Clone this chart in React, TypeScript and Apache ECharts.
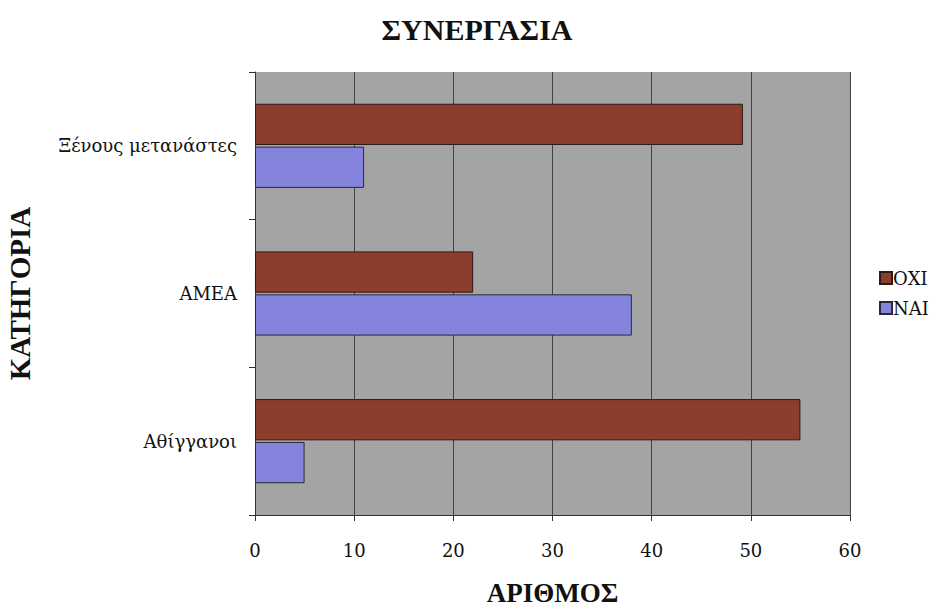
import React, { useEffect, useRef } from "react";
import * as echarts from "echarts";

const categories = ["Αθίγγανοι", "ΑΜΕΑ", "Ξένους μετανάστες"];
const oxiValues = [55, 22, 49.2];
const naiValues = [5, 38, 11];
const xTicks = [0, 60, 10];

export default function App() {
  const ref = useRef<HTMLDivElement>(null);
  useEffect(() => {
    if (!ref.current) return;
    const chart = echarts.init(ref.current, null, { renderer: "svg" });
    const heading = "'Liberation Serif', 'Times New Roman', serif";
    const body = "'DejaVu Serif', serif";
    chart.setOption({
      animation: false,
      backgroundColor: "#ffffff",
      textStyle: { fontFamily: body },
      title: {
        text: "ΣΥΝΕΡΓΑΣΙΑ",
        left: 472,
        top: 9,
        textAlign: "center",
        textStyle: { fontFamily: heading, fontSize: 30, fontWeight: "bold", color: "#111" },
      },
      legend: {
        data: ["ΟΧΙ", "ΝΑΙ"],
        orient: "vertical",
        left: 874,
        top: 264,
        itemWidth: 12,
        itemHeight: 12,
        itemGap: 12,
        icon: "rect",
        textStyle: { fontFamily: body, fontSize: 18, color: "#111", padding: [0, 0, 0, -4] },
      },
      grid: {
        left: 255,
        right: 96,
        top: 72,
        bottom: 92,
        outerBoundsMode: "none",
        containLabel: false,
        show: true,
        backgroundColor: "#a4a4a4",
        borderWidth: 0,
      },
      xAxis: {
        type: "value",
        min: xTicks[0],
        max: xTicks[1],
        interval: xTicks[2],
        name: "ΑΡΙΘΜΟΣ",
        nameLocation: "middle",
        nameGap: 65,
        nameTextStyle: { fontFamily: heading, fontSize: 27, lineHeight: 26, fontWeight: "bold", color: "#111" },
        axisLine: { show: true, lineStyle: { color: "#333", width: 1 } },
        axisTick: { show: true, length: 6, lineStyle: { color: "#333" } },
        axisLabel: { fontFamily: body, fontSize: 18, color: "#111", margin: 26 },
        splitLine: { show: true, lineStyle: { color: "#444", width: 1 } },
      },
      yAxis: {
        type: "category",
        data: categories,
        name: "ΚΑΤΗΓΟΡΙΑ",
        nameLocation: "middle",
        nameGap: 221,
        nameRotate: 90,
        nameTextStyle: { fontFamily: heading, fontSize: 29, fontWeight: "bold", color: "#111" },
        axisLine: { show: true, lineStyle: { color: "#333", width: 1 } },
        axisTick: { show: true, length: 6, lineStyle: { color: "#333" } },
        axisLabel: { fontFamily: body, fontSize: 18, color: "#111", margin: 18 },
      },
      series: [
        {
          name: "ΟΧΙ",
          type: "bar",
          data: oxiValues,
          barCategoryGap: "43%",
          barGap: "4%",
          itemStyle: { color: "#8d3d2c", borderColor: "#2a1a1a", borderWidth: 1 },
        },
        {
          name: "ΝΑΙ",
          type: "bar",
          data: naiValues,
          barCategoryGap: "43%",
          barGap: "4%",
          itemStyle: { color: "#8484dc", borderColor: "#2a2a3a", borderWidth: 1 },
        },
      ],
    });
    return () => chart.dispose();
  }, []);
  return (
    <div
      ref={ref}
      style={{ position: "fixed", left: 0, top: 0, width: 946, height: 607 }}
    />
  );
}
